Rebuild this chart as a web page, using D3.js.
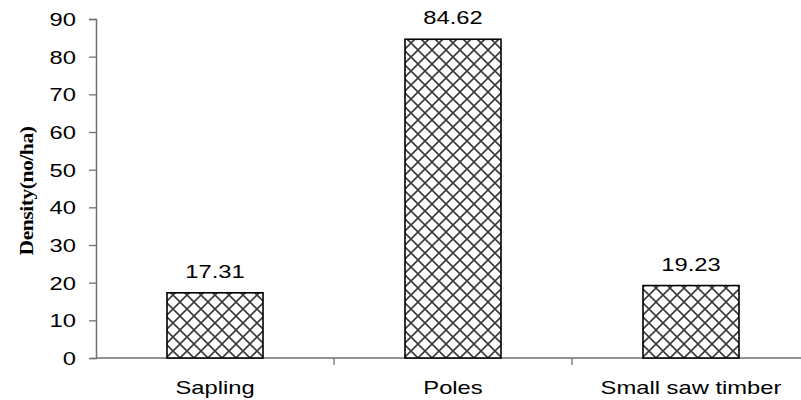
<!DOCTYPE html>
<html>
<head>
<meta charset="utf-8">
<script src="https://cdn.jsdelivr.net/npm/d3@7"></script>
<style>
  html, body { margin: 0; padding: 0; background: #fff; }
  svg { display: block; }
</style>
</head>
<body>
<svg id="chart" width="801" height="400"></svg>
<script>
// Tree density by size class
const categories = ["Sapling", "Poles", "Small saw timber"];
const densities = [17.31, 84.62, 19.23];
const yTicks = [0, 10, 20, 30, 40, 50, 60, 70, 80, 90];
const yLabel = "Density(no/ha)";

const svg = d3.select("#chart");
const plotLeft = 96, plotRight = 810, plotTop = 19, plotBottom = 358;
const sansFont = "Liberation Sans, Arial, sans-serif";
const textSize = 19;     // font size for axis and value text
const stretch = 1.25;    // horizontal widening of the text glyphs

const x = d3.scaleBand().domain(categories).range([plotLeft, plotRight]).paddingInner(0).paddingOuter(0);
const y = d3.scaleLinear().domain([0, 90]).range([plotBottom, plotTop]);

// Cross-hatch fill for the bars
const defs = svg.append("defs");
const P = 14;
const pat = defs.append("pattern")
  .attr("id", "hatch")
  .attr("patternUnits", "userSpaceOnUse")
  .attr("width", P).attr("height", P)
  .attr("x", plotLeft).attr("y", plotBottom);
pat.append("rect").attr("width", P).attr("height", P).attr("fill", "#fff");
pat.append("path")
  .attr("d", `M0,0 L${P},${P} M${P},0 L0,${P}`)
  .attr("stroke", "#3a3a3a").attr("stroke-width", 1.6).attr("fill", "none");

// Y axis
const yAxis = svg.append("g")
  .attr("transform", `translate(${plotLeft},0)`)
  .call(d3.axisLeft(y).tickValues(yTicks).tickSize(7).tickFormat(d3.format("d")));
yAxis.select(".domain").attr("stroke", "#707070").attr("stroke-width", 1.5);
yAxis.selectAll(".tick line").attr("stroke", "#707070").attr("stroke-width", 1.3);
yAxis.selectAll(".tick text")
  .attr("x", 0)
  .attr("dy", "0.35em")
  .attr("text-anchor", "end")
  .attr("transform", `translate(-20,0) scale(${stretch},1)`)
  .attr("font-family", sansFont)
  .attr("font-size", textSize)
  .attr("fill", "#000");

// X axis with tick marks between categories
const xAxisG = svg.append("g").attr("transform", `translate(0,${plotBottom})`);
xAxisG.append("line")
  .attr("x1", plotLeft).attr("x2", 801).attr("y1", 0).attr("y2", 0)
  .attr("stroke", "#707070").attr("stroke-width", 1.5);
xAxisG.selectAll("line.sep")
  .data(categories.slice(1))
  .join("line")
  .attr("class", "sep")
  .attr("x1", d => x(d)).attr("x2", d => x(d))
  .attr("y1", 0).attr("y2", 7)
  .attr("stroke", "#707070").attr("stroke-width", 1.3);
xAxisG.selectAll("text")
  .data(categories)
  .join("text")
  .attr("transform", d => `translate(${x(d) + x.bandwidth() / 2},36) scale(${stretch},1)`)
  .attr("text-anchor", "middle")
  .attr("font-family", sansFont)
  .attr("font-size", textSize)
  .text(d => d);

// Bars
const barW = 96;
const data = categories.map((c, i) => ({ c, v: densities[i] }));
svg.selectAll("rect.bar")
  .data(data)
  .join("rect")
  .attr("class", "bar")
  .attr("x", d => x(d.c) + x.bandwidth() / 2 - barW / 2)
  .attr("y", d => y(d.v))
  .attr("width", barW)
  .attr("height", d => y(0) - y(d.v))
  .attr("fill", "url(#hatch)")
  .attr("stroke", "#000")
  .attr("stroke-width", 1.6);

// Value labels
svg.selectAll("text.val")
  .data(data)
  .join("text")
  .attr("class", "val")
  .attr("transform", d => `translate(${x(d.c) + x.bandwidth() / 2},${y(d.v) - 15}) scale(${stretch},1)`)
  .attr("text-anchor", "middle")
  .attr("font-family", sansFont)
  .attr("font-size", textSize)
  .text(d => d.v.toFixed(2));

// Y axis title
svg.append("text")
  .attr("transform", `translate(33,191) rotate(-90) scale(1.2,1)`)
  .attr("text-anchor", "middle")
  .attr("font-family", "Liberation Serif, Times New Roman, serif")
  .attr("font-weight", "bold")
  .attr("font-size", 18)
  .attr("letter-spacing", -0.4)
  .text(yLabel);
</script>
</body>
</html>
